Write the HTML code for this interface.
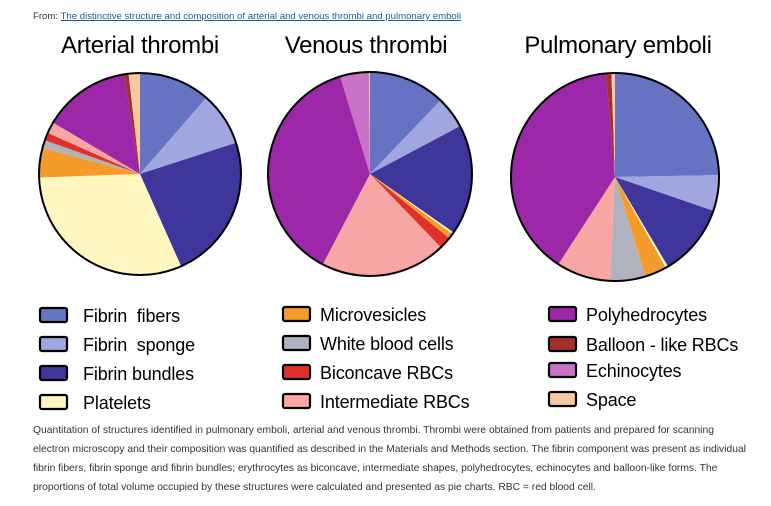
<!DOCTYPE html>
<html><head><meta charset="utf-8"><style>
body{margin:0;background:#fff;width:771px;height:506px;overflow:hidden;font-family:"Liberation Sans",Arial,sans-serif}
svg{position:absolute;left:0;top:0}
.cap{position:absolute;left:33px;top:421px;width:720px;font-size:10.3px;line-height:19px;color:#333}
.from{position:absolute;left:33px;top:11px;font-size:9.6px;color:#333}
.from a{color:#1d5c94;text-decoration:underline}
</style></head><body>
<div class="from">From: <a>The distinctive structure and composition of arterial and venous thrombi and pulmonary emboli</a></div>
<svg id="s" width="771" height="506" xmlns="http://www.w3.org/2000/svg">
<g font-size="24" fill="#000" text-anchor="middle" letter-spacing="-0.3">
<text x="140" y="53">Arterial thrombi</text>
<text x="366" y="53">Venous thrombi</text>
<text x="618" y="53">Pulmonary emboli</text>
</g>
<g id="pies"></g>
<g id="leg" font-size="18" letter-spacing="-0.15" fill="#000"></g>
</svg>
<div class="cap">Quantitation of structures identified in pulmonary emboli, arterial and venous thrombi. Thrombi were obtained from patients and prepared for scanning electron microscopy and their composition was quantified as described in the Materials and Methods section. The fibrin component was present as individual fibrin fibers, fibrin sponge and fibrin bundles; erythrocytes as biconcave, intermediate shapes, polyhedrocytes, echinocytes and balloon-like forms. The proportions of total volume occupied by these structures were calculated and presented as pie charts. RBC = red blood cell.</div>
<script>
var C={fib:"#6672c2",spo:"#a0a6e0",bun:"#3f369b",pla:"#fff6c0",mic:"#f39c2a",wbc:"#b0b3bd",bic:"#e0302a",int:"#f8a6a4",pol:"#9c27a8",bal:"#a4302a",ech:"#c873c8",spa:"#f8c9a0"};
var pies=[
 [140,174,101,[["fib",41],["spo",72],["bun",156],["pla",268],["mic",285],["wbc",289.5],["bic",294],["int",300.6],["pol",351],["bal",353.5],["spa",360]]],
 [370,174,102,[["fib",43.8],["spo",62],["bun",125],["pla",126],["mic",129],["bic",136],["int",207.6],["pol",343],["ech",359.4],["spa",360]]],
 [615,177,104,[["fib",89],["spo",109],["bun",149.4],["pla",150.8],["mic",163],["wbc",182.8],["int",213],["pol",355],["bal",358],["spa",360]]]
];
var h="";
function pt(cx,cy,r,a){a=a*Math.PI/180;return (cx+r*Math.sin(a)).toFixed(2)+","+(cy-r*Math.cos(a)).toFixed(2);}
pies.forEach(function(p){var cx=p[0],cy=p[1],r=p[2],s=0;
 p[3].forEach(function(q){var e=q[1];h+='<path d="M'+cx+','+cy+' L'+pt(cx,cy,r,s)+' A'+r+','+r+' 0 '+((e-s)>180?1:0)+' 1 '+pt(cx,cy,r,e)+' Z" fill="'+C[q[0]]+'"/>';s=e;});
 h+='<circle cx="'+cx+'" cy="'+cy+'" r="'+r+'" fill="none" stroke="#000" stroke-width="2"/>';});
document.getElementById("pies").innerHTML=h;
var L=[[39,83,[["fib","Fibrin  fibers",315],["spo","Fibrin  sponge",344],["bun","Fibrin bundles",373],["pla","Platelets",402]]],
 [282,320,[["mic","Microvesicles",314],["wbc","White blood cells",343],["bic","Biconcave RBCs",372],["int","Intermediate RBCs",401]]],
 [548,586,[["pol","Polyhedrocytes",314],["bal","Balloon - like RBCs",344],["ech","Echinocytes",370],["spa","Space",399]]]];
var g="";
L.forEach(function(c){c[2].forEach(function(q){
 g+='<rect x="'+(c[0]+1)+'" y="'+(q[2]-7)+'" width="27" height="14" rx="2" fill="'+C[q[0]]+'" stroke="#000" stroke-width="2.2"/>';
 g+='<text x="'+c[1]+'" y="'+(q[2]+7)+'">'+q[1].replace(/  /g,"&#160; ")+'</text>';});});
document.getElementById("leg").innerHTML=g;
</script>
</body></html>
